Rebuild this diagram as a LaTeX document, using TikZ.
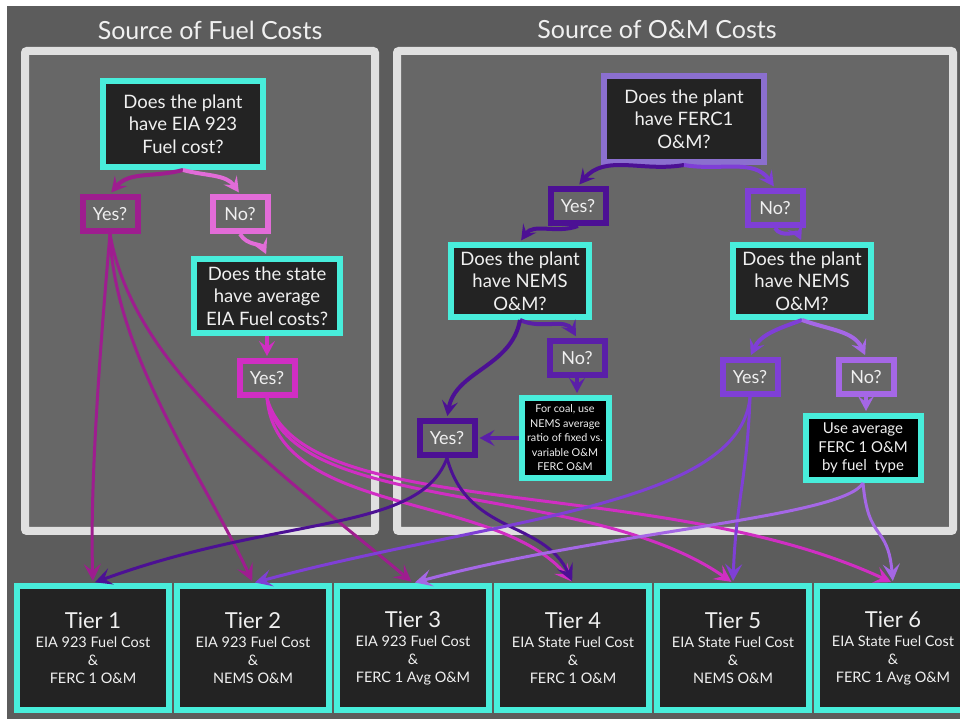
\documentclass[tikz,border=0pt]{standalone}
\usepackage{fontspec}
\setmainfont{Lato}
\usetikzlibrary{arrows.meta}

\definecolor{bg}{HTML}{5C5C5C}
\definecolor{panelbg}{HTML}{676767}
\definecolor{edge}{HTML}{E0E0E0}
\definecolor{aqua}{HTML}{48EDDB}
\definecolor{boxbg}{HTML}{232323}
\definecolor{txt}{HTML}{F0F0F0}
\definecolor{fyes}{HTML}{9E1D8F}
\definecolor{fno}{HTML}{E26CD8}
\definecolor{fstate}{HTML}{D02EC3}
\definecolor{lav}{HTML}{8B6FCF}
\definecolor{dpur}{HTML}{4C1094}
\definecolor{npur}{HTML}{5A1FA8}
\definecolor{mpur}{HTML}{7F3FD6}
\definecolor{lpur}{HTML}{A567E6}

\begin{document}
\begin{tikzpicture}[x=1pt,y=1pt]
\tikzstyle{ttl} = [text=txt, font=\fontsize{25}{28}\selectfont]
\tikzstyle{panel} = [draw=edge, fill=panelbg, line width=8pt, rounded corners=2pt]
\tikzstyle{q} = [draw=aqua, fill=boxbg, line width=6pt, text=txt, align=center, inner sep=0pt, minimum width=160pt, minimum height=86pt, font=\fontsize{18.5}{22.5}\selectfont]
\tikzstyle{yn} = [line width=6pt, fill=panelbg, text=txt, inner sep=0pt, minimum width=55pt, minimum height=34pt, font=\fontsize{18}{20}\selectfont]
\tikzstyle{note} = [draw=aqua, fill=black, line width=6pt, text=txt, align=center, inner sep=0pt]
\tikzstyle{tier} = [draw=aqua, fill=boxbg, line width=6pt, text=txt, align=center, inner sep=0pt, minimum width=152pt, minimum height=124pt, font=\fontsize{14.5}{18}\selectfont]
\tikzstyle{e} = [line width=4pt, shorten >=2pt, -{Stealth[length=15pt, width=16pt, inset=6pt]}]
\tikzstyle{l} = [line width=3pt, shorten >=2pt, -{Stealth[length=17pt, width=17pt, inset=7pt]}]

\useasboundingbox (0,0) rectangle (960,719);
\fill[white] (0,0) rectangle (960,719);
\fill[bg] (7,0) rectangle (960,713);

% the two panels
\draw[panel] (25,188) rectangle (375,668);
\draw[panel] (397,188) rectangle (953,668);
\node[ttl] (fuelttl) at (210,689) {Source of Fuel Costs};
\node[ttl] (omttl) at (657,689) {Source of O\&M Costs};

% fuel side
\node[q] (q1) at (183,595) {Does the plant\\have EIA 923\\Fuel cost?};
\node[yn, draw=fyes] (y1) at (110,505) {Yes?};
\node[yn, draw=fno] (n1) at (240,505) {No?};
\node[q, minimum width=146pt, minimum height=74pt] (q2) at (267,423) {Does the state\\have average\\EIA Fuel costs?};
\node[yn, draw=fstate] (y2) at (267,341) {Yes?};

% O&M side
\node[q, draw=lav] (q3) at (684,600) {Does the plant\\have FERC1\\O\&M?};
\node[yn, draw=dpur] (y3) at (578,513) {Yes?};
\node[yn, draw=mpur] (n3) at (775,511) {No?};
\node[q, minimum width=138pt, minimum height=72pt] (q4) at (520,438) {Does the plant\\have NEMS\\O\&M?};
\node[q, minimum width=138pt, minimum height=72pt] (q5) at (802,438) {Does the plant\\have NEMS\\O\&M?};
\node[yn, draw=npur] (n4) at (577,361) {No?};
\node[note, minimum width=87pt, minimum height=80pt, font=\fontsize{10.8}{14.5}\selectfont] (r1) at (565,281) {For coal, use\\NEMS average\\ratio of fixed vs.\\variable O\&M\\FERC O\&M};
\node[yn, draw=dpur] (y4) at (447,281) {Yes?};
\node[yn, draw=mpur] (y5) at (750,342) {Yes?};
\node[yn, draw=lpur] (n5) at (866,342) {No?};
\node[note, minimum width=115pt, minimum height=64pt, font=\fontsize{15}{18.5}\selectfont] (a1) at (863,271) {Use average\\FERC 1 O\&M\\by fuel\ \ type};

% tiers
\node[tier] (t1) at (93,71) {{\fontsize{22}{26}\selectfont Tier 1}\\[1pt]EIA 923 Fuel Cost\\\&\\FERC 1 O\&M};
\node[tier] (t2) at (253,71) {{\fontsize{22}{26}\selectfont Tier 2}\\[1pt]EIA 923 Fuel Cost\\\&\\NEMS O\&M};
\node[tier] (t3) at (413,71) {{\fontsize{22}{26}\selectfont Tier 3}\\[1pt]EIA 923 Fuel Cost\\\&\\FERC 1 Avg O\&M};
\node[tier] (t4) at (573,71) {{\fontsize{22}{26}\selectfont Tier 4}\\[1pt]EIA State Fuel Cost\\\&\\FERC 1 O\&M};
\node[tier] (t5) at (733,71) {{\fontsize{22}{26}\selectfont Tier 5}\\[1pt]EIA State Fuel Cost\\\&\\NEMS O\&M};
\node[tier] (t6) at (893,71) {{\fontsize{22}{26}\selectfont Tier 6}\\[1pt]EIA State Fuel Cost\\\&\\FERC 1 Avg O\&M};

% decisions
\draw[e, fyes] (q1.south) to[out=195,in=50] (y1.north);
\draw[e, fno] (q1.south) to[out=-15,in=125] (n1.north);
\draw[e, fno] (n1.south) to[out=-60,in=115] (q2.north);
\draw[e, fstate] (q2.south) -- (y2.north);
\draw[e, dpur] (q3.south) to[out=190,in=50] (y3.north);
\draw[e, mpur] (q3.south) to[out=-10,in=125] (n3.north);
\draw[e, dpur] (y3.south) to[out=200,in=55] (q4.north);
\draw[e, mpur] (n3.south) to[out=-60,in=115] (q5.north);
\draw[e, npur] (q4.south) to[out=-25,in=120] (n4.north);
\draw[e, dpur] (q4.south) to[out=-100,in=80] (y4.north);
\draw[e, npur] (n4.south) -- (n4.south |- r1.north);
\draw[e, npur] (r1.west) -- (y4.east);
\draw[e, mpur] (q5.south) to[out=200,in=65] (y5.north);
\draw[e, lpur] (q5.south) to[out=-20,in=115] (n5.north);
\draw[e, lpur] (n5.south) -- (n5.south |- a1.north);

% to the tiers
\draw[l, fyes] (y1.south) .. controls +(-95:100) and +(92:100) .. (t1.north);
\draw[l, fyes] (y1.south) .. controls +(-88:120) and +(115:120) .. (t2.north);
\draw[l, fyes] (y1.south) .. controls +(-80:140) and +(140:170) .. (t3.north);
\draw[l, fstate] (y2.south) .. controls +(-85:120) and +(130:120) .. (t4.north);
\draw[l, fstate] (y2.south) .. controls +(-80:120) and +(145:180) .. (t5.north);
\draw[l, fstate] (y2.south) .. controls +(-75:130) and +(155:260) .. (t6.north);
\draw[l, dpur] (y4.south) .. controls +(-110:80) and +(20:200) .. (t1.north);
\draw[l, dpur] (y4.south) .. controls +(-75:80) and +(115:70) .. (t4.north);
\draw[l, mpur] (y5.south) .. controls +(-95:110) and +(15:250) .. (t2.north);
\draw[l, mpur] (y5.south) .. controls +(-92:80) and +(88:80) .. (t5.north);
\draw[l, lpur] (a1.south) .. controls +(-120:40) and +(15:200) .. (t3.north);
\draw[l, lpur] (a1.south) .. controls +(-85:60) and +(95:60) .. (t6.north);
\end{tikzpicture}
\end{document}
